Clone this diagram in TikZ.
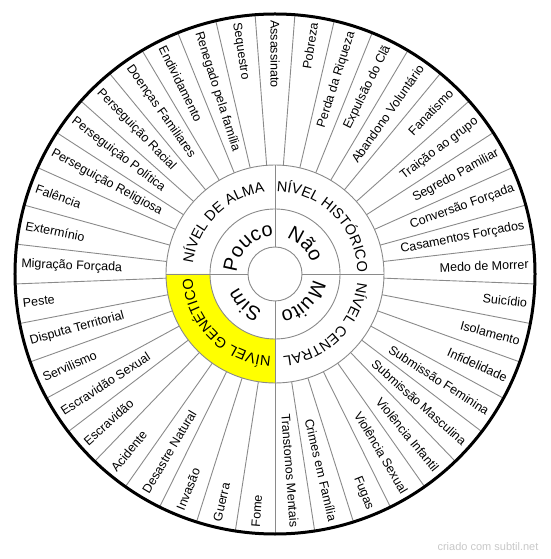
\documentclass[tikz,border=0pt]{standalone}
\usepackage{fontspec}
\setmainfont{Liberation Sans}
\definecolor{wGray}{HTML}{8A8A8A}
\definecolor{wYellow}{HTML}{FFFF00}
\definecolor{wMark}{HTML}{C8C8C8}
\usetikzlibrary{decorations.text}

\begin{document}
\begin{tikzpicture}[x=1pt, y=1pt,
  ring/.style={draw=wGray, line width=0.9pt},
  rim/.style={draw=black, line width=3pt},
  lbl/.style={font=\fontsize{12.5}{14}\selectfont, inner sep=0pt},
  lvl/.style={decorate, decoration={text along path, text align=center,
              text={|\fontsize{14.5}{16}\selectfont|#1}}},
  word/.style={decorate, decoration={text along path, text align=center,
               text={|\fontsize{20}{22}\selectfont|#1}}}]
  \useasboundingbox (-275,-285) rectangle (275,274);
  % yellow quadrant
  \fill[wYellow] (180:65) -- (180:109) arc[start angle=180, end angle=270, radius=109]
    -- (270:65) arc[start angle=270, end angle=180, radius=65] -- cycle;
  % outer spokes and quadrant lines
  \foreach \k in {0,...,40}
    \draw[ring] ({90-(\k+0.5)*360/41}:109) -- ({90-(\k+0.5)*360/41}:260);
  \foreach \a in {0,90,180,270}
    \draw[ring] (\a:27) -- (\a:109);
  \draw[ring] (0,0) circle[radius=27];
  \draw[ring] (0,0) circle[radius=65];
  \draw[ring] (0,0) circle[radius=109];
  \draw[rim] (0,0) circle[radius=260];
  % levels
  \path[lvl=NÍVEL DE ALMA] (180:82.5) arc[start angle=180, end angle=90, radius=82.5];
  \path[lvl=NÍVEL HISTÓRICO] (90:82.5) arc[start angle=90, end angle=0, radius=82.5];
  \path[lvl=NÍVEL CENTRAL] (0:82.5) arc[start angle=0, end angle=-90, radius=82.5];
  \path[lvl=NÍVEL GENÉTICO] (-90:82.5) arc[start angle=-90, end angle=-180, radius=82.5];
  \path[word=Pouco] (180:38) arc[start angle=180, end angle=90, radius=38];
  \path[word=Não] (90:38) arc[start angle=90, end angle=0, radius=38];
  \path[word=Muito] (0:38) arc[start angle=0, end angle=-90, radius=38];
  \path[word=Sim] (-90:38) arc[start angle=-90, end angle=-180, radius=38];
  % outer labels, right half
  \foreach \t [count=\i from 1] in {Pobreza, Perda da Riqueza, Expulsão do Clã,
      Abandono Voluntário, Fanatismo, Traição ao grupo, Segredo Pamiliar,
      Conversão Forçada, Casamentos Forçados, Medo de Morrer, Suicídio,
      Isolamento, Infidelidade, Submissão Feminina, Submissão Masculina,
      Violência Infantil, Violência Sexual, Fugas, Crimes em Família,
      Transtornos Mentais}
    \node[lbl, anchor=east, rotate={90-\i*360/41}] (r\i) at ({90-\i*360/41}:254) {\t};
  % outer labels, left half
  \foreach \t [count=\i from 21] in {Fome, Guerra, Invasão, Desastre Natural,
      Acidente, Escravidão, Escravidão Sexual, Servilismo, Disputa Territorial,
      Peste, Migração Forçada, Extermínio, Falência, Perseguição Religiosa,
      Perseguição Política, Perseguição Racial, Doenças Familiares,
      Endividamento, Renegado pela família, Sequestro, Assassinato}
    \node[lbl, anchor=west, rotate={270-\i*360/41}] (l\i) at ({90-\i*360/41}:254) {\t};
  \node[font=\fontsize{11}{12}\selectfont, text=wMark] (mark) at (213,-273) {criado com subtil.net};
\end{tikzpicture}
\end{document}
